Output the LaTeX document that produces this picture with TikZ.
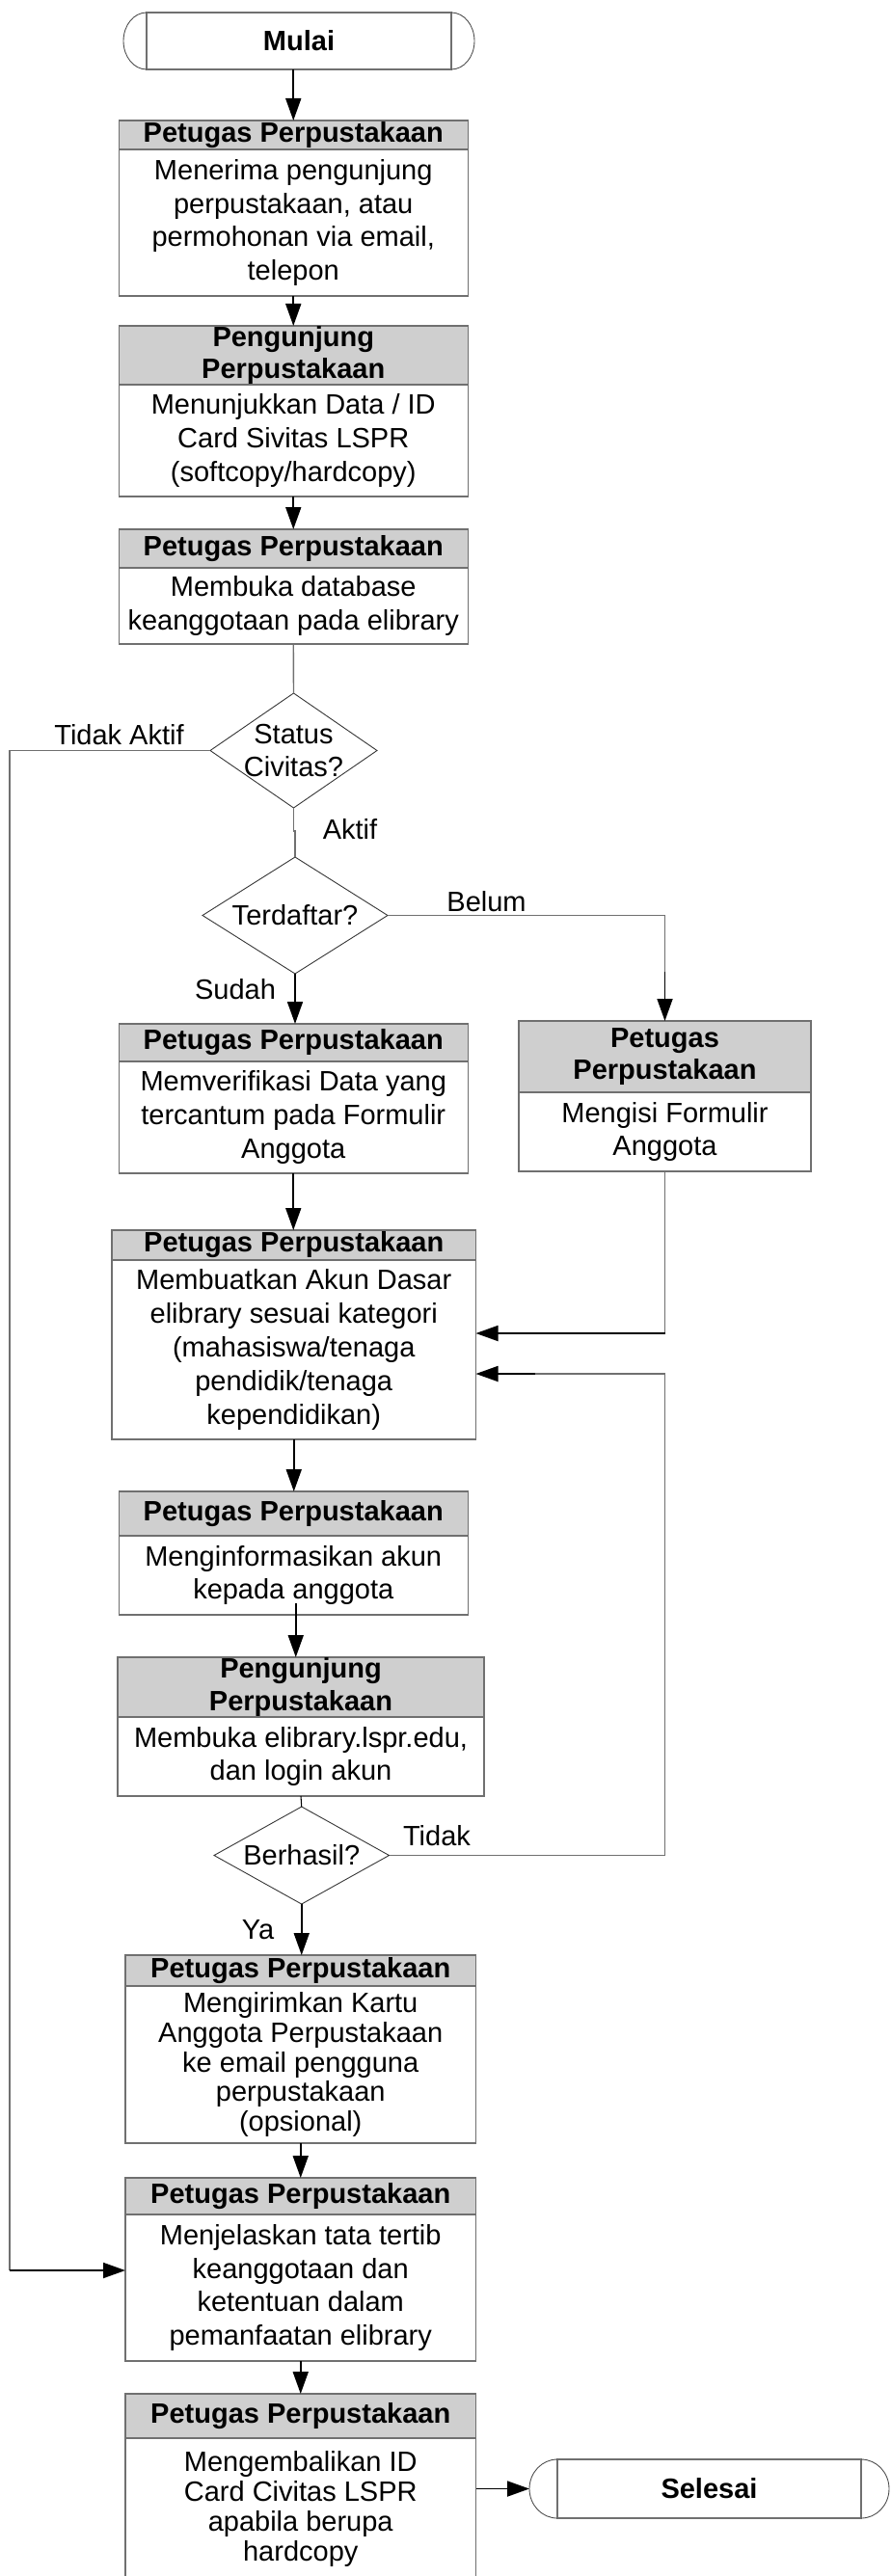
\documentclass[tikz,border=0pt]{standalone}
\usepackage{fontspec}
\setmainfont{Liberation Sans}
\usetikzlibrary{arrows.meta,shapes.geometric,positioning}
\definecolor{lingray}{RGB}{112,112,112}
\definecolor{hdrgray}{RGB}{207,207,207}

\begin{document}
\begin{tikzpicture}[
    font=\fontsize{16.5}{19.8}\selectfont,
    hdr/.style={draw=lingray, line width=0.8pt, fill=hdrgray, minimum width=7.24cm, inner xsep=2pt, inner ysep=0pt, outer sep=0pt, align=center, font=\fontsize{16.5}{19}\selectfont\bfseries},
    bdy/.style={draw=lingray, line width=0.8pt, fill=white, minimum width=7.24cm, inner sep=2pt, outer sep=0pt, align=center},
    tight/.style={font=\fontsize{16.5}{17.6}\selectfont},
    term/.style={draw=lingray, line width=0.8pt, minimum width=6.32cm, inner sep=0pt, outer sep=0pt, font=\fontsize{16.5}{19.8}\selectfont\bfseries},
    termend/.style={draw=black!70, line width=0.5pt},
    dec/.style={diamond, draw=black!80, line width=0.5pt, inner sep=0pt, outer sep=0pt},
    dtxt/.style={align=center, inner sep=0pt, font=\fontsize{16.5}{19.4}\selectfont},
    arr/.style={-{Triangle[length=0.46cm, width=0.32cm]}, line width=1pt},
    con/.style={draw=lingray, line width=0.8pt},
    lbl/.style={inner sep=0pt}
]
\useasboundingbox (0,0) rectangle (18.46,-53.44);

\node[term, minimum height=1.18cm] (mulai) at (6.20,-0.85) {Mulai};
\draw[termend] (mulai.north west) arc[start angle=90, end angle=270, x radius=0.48cm, y radius=0.59cm];
\draw[termend] (mulai.north east) arc[start angle=90, end angle=-90, x radius=0.48cm, y radius=0.59cm];

\node[hdr, minimum height=0.60cm] (h1) at (6.085,-2.80) {Petugas Perpustakaan};
\node[bdy, minimum height=3.04cm, below=0pt of h1] (b1) {Menerima pengunjung\\perpustakaan, atau\\permohonan via email,\\telepon};

\node[hdr, minimum height=1.22cm] (h2) at (6.085,-7.37) {Pengunjung\\Perpustakaan};
\node[bdy, minimum height=2.32cm, below=0pt of h2] (b2) {Menunjukkan Data / ID\\Card Sivitas LSPR\\(softcopy/hardcopy)};

\node[hdr, minimum height=0.80cm] (h3) at (6.085,-11.38) {Petugas Perpustakaan};
\node[bdy, minimum height=1.58cm, below=0pt of h3] (b3) {Membuka database\\keanggotaan pada elibrary};

\node[dec, minimum width=3.46cm, minimum height=2.38cm, label={[dtxt, name=d1t]center:Status\\Civitas?}] (d1) at (6.09,-15.57) {};
\node[dec, minimum width=3.84cm, minimum height=2.42cm, label={[dtxt, name=d2t]center:Terdaftar?}] (d2) at (6.12,-18.99) {};

\node[hdr, minimum height=0.78cm] (h4) at (6.085,-21.63) {Petugas Perpustakaan};
\node[bdy, minimum height=2.32cm, below=0pt of h4] (b4) {Memverifikasi Data yang\\tercantum pada Formulir\\Anggota};

\node[hdr, minimum width=6.06cm, minimum height=1.48cm] (h5) at (13.79,-21.92) {Petugas\\Perpustakaan};
\node[bdy, minimum width=6.06cm, minimum height=1.64cm, below=0pt of h5] (b5) {Mengisi Formulir\\Anggota};

\node[hdr, minimum width=7.55cm, minimum height=0.62cm] (h6) at (6.095,-25.83) {Petugas Perpustakaan};
\node[bdy, minimum width=7.55cm, minimum height=3.72cm, below=0pt of h6] (b6) {Membuatkan Akun Dasar\\elibrary sesuai kategori\\(mahasiswa/tenaga\\pendidik/tenaga\\kependidikan)};

\node[hdr, minimum height=0.92cm] (h7) at (6.085,-31.40) {Petugas Perpustakaan};
\node[bdy, minimum height=1.64cm, below=0pt of h7] (b7) {Menginformasikan akun\\kepada anggota};

\node[hdr, minimum width=7.60cm, minimum height=1.24cm] (h8) at (6.24,-35.00) {Pengunjung\\Perpustakaan};
\node[bdy, minimum width=7.60cm, minimum height=1.64cm, below=0pt of h8] (b8) {Membuka elibrary.lspr.edu,\\dan login akun};

\node[dec, minimum width=3.63cm, minimum height=2.02cm, label={[dtxt, name=d3t]center:Berhasil?}] (d3) at (6.255,-38.49) {};

\node[hdr, minimum width=7.27cm, minimum height=0.64cm] (h9) at (6.235,-40.88) {Petugas Perpustakaan};
\node[bdy, tight, minimum width=7.27cm, minimum height=3.26cm, below=0pt of h9] (b9) {Mengirimkan Kartu\\Anggota Perpustakaan\\ke email pengguna\\perpustakaan\\(opsional)};

\node[hdr, minimum width=7.27cm, minimum height=0.76cm] (h10) at (6.235,-45.56) {Petugas Perpustakaan};
\node[bdy, minimum width=7.27cm, minimum height=3.04cm, below=0pt of h10] (b10) {Menjelaskan tata tertib\\keanggotaan dan\\ketentuan dalam\\pemanfaatan elibrary};

\node[hdr, minimum width=7.27cm, minimum height=0.92cm] (h11) at (6.235,-50.12) {Petugas Perpustakaan};
\node[bdy, tight, minimum width=7.27cm, minimum height=2.94cm, below=0pt of h11] (b11) {Mengembalikan ID\\Card Civitas LSPR\\apabila berupa\\hardcopy};

\node[term, minimum width=6.30cm, minimum height=1.22cm] (sel) at (14.71,-51.63) {Selesai};
\draw[termend] (sel.north west) arc[start angle=90, end angle=270, x radius=0.58cm, y radius=0.61cm];
\draw[termend] (sel.north east) arc[start angle=90, end angle=-90, x radius=0.58cm, y radius=0.61cm];

\node[lbl] (tdka) at (2.47,-15.24) {Tidak Aktif};
\node[lbl] (akt) at (7.26,-17.20) {Aktif};
\node[lbl] (blm) at (10.09,-18.70) {Belum};
\node[lbl] (sdh) at (4.88,-20.52) {Sudah};
\node[lbl] (tdk) at (9.06,-38.08) {Tidak};
\node[lbl] (ya) at (5.35,-40.04) {Ya};

\coordinate (lft) at (0.20,-47.10);
\coordinate (blmj) at (13.79,-20.16);
\coordinate (j1) at (13.79,-27.66);
\coordinate (j2) at (13.79,-28.50);
\coordinate (j3) at (11.10,-28.50);

\draw[arr] (h1.north |- mulai.south) -- (h1.north);
\draw[arr] (b1.south) -- (h2.north);
\draw[arr] (b2.south) -- (h3.north);
\draw[con] (b3.south) -- (d1.north);
\draw[con] (d1.south) -- ++(0,-0.48) -| (d2.north);
\draw[con] (d1.west) -| (lft);
\draw[arr] (lft) -- (lft -| b10.west);
\draw[arr] (d2.south) -- (d2.south |- h4.north);
\draw[con] (d2.east) -| (blmj);
\draw[arr] (blmj) -- (h5.north);
\draw[arr] (b4.south) -- (b4.south |- h6.north);
\draw[con] (b5.south) -- (j1);
\draw[arr] (j1) -- (j1 -| b6.east);
\draw[arr] (b6.south) -- (b6.south |- h7.north);
\draw[arr] ([xshift=0.05cm,yshift=0.24cm]b7.south) -- ([xshift=0.05cm]b7.south |- h8.north);
\draw[line width=0.6pt] (b8.south) -- (d3.north);
\draw[con] (d3.east) -| (j2) -- (j3);
\draw[arr] (j3) -- (j3 -| b6.east);
\draw[arr] (d3.south) -- (d3.south |- h9.north);
\draw[arr] (b9.south) -- (h10.north);
\draw[arr] (b10.south) -- (h11.north);
\draw[arr] (b11.east |- sel.west) -- ([xshift=-0.58cm]sel.west);
\end{tikzpicture}
\end{document}
